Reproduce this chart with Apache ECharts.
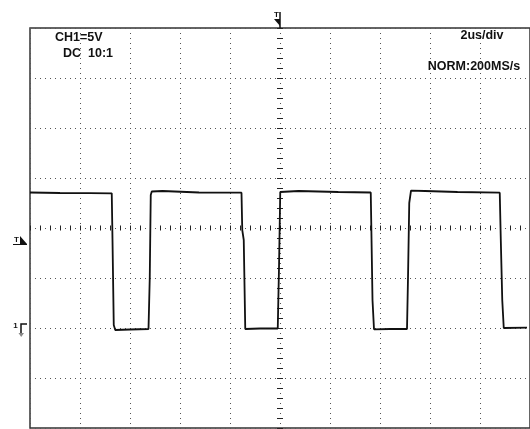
<!DOCTYPE html>
<html>
<head>
<meta charset="utf-8">
<script src="https://cdn.jsdelivr.net/npm/echarts@6/dist/echarts.min.js"></script>
<style>
  html, body { margin: 0; padding: 0; background: #fff; }
  #scope { width: 530px; height: 429px; }
</style>
</head>
<body>
<div id="scope"></div>
<script>
// CH1 capture, 2 us/div horizontally, 5 V/div vertically (ground two divisions above the bottom)
const timeUs = [0, 1.2, 2.4, 3.27, 3.30, 3.35, 3.41, 4.0, 4.74, 4.79, 4.83, 4.87, 5.3, 6.76, 8.46,
  8.49, 8.55, 8.61, 9.2, 9.91, 9.96, 10.01, 10.06, 10.74, 12.33, 13.63, 13.66, 13.70, 13.76, 14.4,
  15.08, 15.12, 15.17, 15.24, 15.8, 17.1, 18.79, 18.83, 18.89, 18.95, 19.88];
const voltage = [13.55, 13.5, 13.48, 13.47, 8.8, 0.3, -0.2, -0.15, -0.1, 5.0, 13.3, 13.65, 13.7, 13.55, 13.53,
  9.8, 8.8, -0.1, -0.05, -0.05, 6.0, 13.6, 13.7, 13.7, 13.6, 13.55, 9.0, 2.8, -0.13, -0.1,
  -0.1, 5.0, 12.5, 13.73, 13.7, 13.6, 13.53, 9.0, 2.8, 0.0, 0.03];

// Screen readouts
const channelLabel = 'CH1=5V';
const couplingLabel = 'DC  10:1';
const timebaseLabel = '2us/div';
const acquireLabel = 'NORM:200MS/s';

// Marker positions on the axes
const triggerTimeUs = 10;
const triggerLevelV = 8.4;
const groundV = 0;

const INK = '#111';
const DOT = '#555';
const FONT = 'bold 12.5px "Liberation Sans", Arial, sans-serif';
const GRID_TOP = 28;

const chart = echarts.init(document.getElementById('scope'), null, { renderer: 'canvas' });

const hidden = { show: false };
const tickAxisX = (inside) => ({
  type: 'value', min: -10, max: 10, interval: 2,
  axisLine: { show: false, onZero: true, onZeroAxisIndex: 1 },
  axisTick: { show: true, inside: inside, length: 2.5, lineStyle: { color: '#222', width: 1 } },
  minorTick: { show: true, splitNumber: 5, length: 2.5, lineStyle: { color: '#222', width: 1 } },
  axisLabel: hidden, splitLine: hidden
});
const tickAxisY = (inside) => ({
  type: 'value', min: -4, max: 4, interval: 1,
  axisLine: { show: false, onZero: true, onZeroAxisIndex: 1 },
  axisTick: { show: true, inside: inside, length: 3, lineStyle: { color: '#222', width: 1 } },
  minorTick: { show: true, splitNumber: 5, length: 3, lineStyle: { color: '#222', width: 1 } },
  axisLabel: hidden, splitLine: hidden
});

chart.setOption({
  animation: false,
  backgroundColor: '#fff',
  grid: { left: 30, top: GRID_TOP, width: 503, height: 400, show: true, borderColor: '#333', borderWidth: 1.5, backgroundColor: 'transparent' },
  xAxis: [
    {
      type: 'value', min: 0, max: 20, interval: 2,
      axisLine: { show: false, onZero: false }, axisTick: hidden, axisLabel: hidden,
      splitLine: { show: true, lineStyle: { color: DOT, width: 1, type: [1, 4] } }
    },
    tickAxisX(false),
    tickAxisX(true)
  ],
  yAxis: [
    {
      type: 'value', min: -10, max: 30, interval: 5,
      axisLine: { show: false, onZero: false }, axisTick: hidden, axisLabel: hidden,
      splitLine: { show: true, lineStyle: { color: DOT, width: 1, type: [1, 4] } }
    },
    tickAxisY(false),
    tickAxisY(true)
  ],
  series: [{
    type: 'line',
    xAxisIndex: 0, yAxisIndex: 0,
    data: timeUs.map((t, i) => [t, voltage[i]]),
    showSymbol: false,
    symbol: 'none',
    lineStyle: { color: INK, width: 1.8 },
    z: 5
  }]
});

// Readouts and the trigger / ground indicators
const tx = chart.convertToPixel({ xAxisIndex: 0 }, triggerTimeUs);
const ty = chart.convertToPixel({ yAxisIndex: 0 }, triggerLevelV);
const gy = chart.convertToPixel({ yAxisIndex: 0 }, groundV);

function label(text, x, y, align) {
  return {
    type: 'text', x: x, y: y, z: 10,
    style: { text: text, font: FONT, fill: '#111', textAlign: align, align: align, textVerticalAlign: 'middle', verticalAlign: 'middle' }
  };
}
function tiny(text, x, y) {
  return {
    type: 'text', x: x, y: y, z: 10,
    style: { text: text, font: 'bold 8px "Liberation Sans", Arial, sans-serif', fill: '#111', textAlign: 'center', align: 'center', textVerticalAlign: 'middle', verticalAlign: 'middle' }
  };
}

chart.setOption({
  graphic: [
    label(channelLabel, 55, 38, 'left'),
    label(couplingLabel, 63, 54, 'left'),
    label(timebaseLabel, 482, 35.5, 'center'),
    label(acquireLabel, 474, 67, 'center'),
    // trigger time marker above the screen
    tiny('T', tx - 3.5, 15),
    { type: 'line', z: 10, shape: { x1: tx, y1: 12, x2: tx, y2: GRID_TOP }, style: { stroke: '#111', lineWidth: 1.5 } },
    { type: 'polygon', z: 10, shape: { points: [[tx - 6, 19], [tx, 19], [tx, 26]] }, style: { fill: '#111' } },
    // trigger level marker on the left
    tiny('T', 16.5, ty - 4),
    { type: 'polygon', z: 10, shape: { points: [[20, ty - 8], [27, ty], [20, ty]] }, style: { fill: '#111' } },
    { type: 'line', z: 10, shape: { x1: 13, y1: ty + 0.5, x2: 27, y2: ty + 0.5 }, style: { stroke: '#111', lineWidth: 1 } },
    // channel 1 ground reference
    tiny('1', 15.5, gy - 2),
    { type: 'polyline', z: 10, shape: { points: [[21, gy + 5], [21, gy - 4], [27, gy - 4]] }, style: { stroke: '#111', lineWidth: 1.5, fill: null } },
    { type: 'polygon', z: 10, shape: { points: [[18.5, gy + 5], [24, gy + 5], [21.2, gy + 9]] }, style: { fill: '#888' } }
  ]
});
</script>
</body>
</html>
